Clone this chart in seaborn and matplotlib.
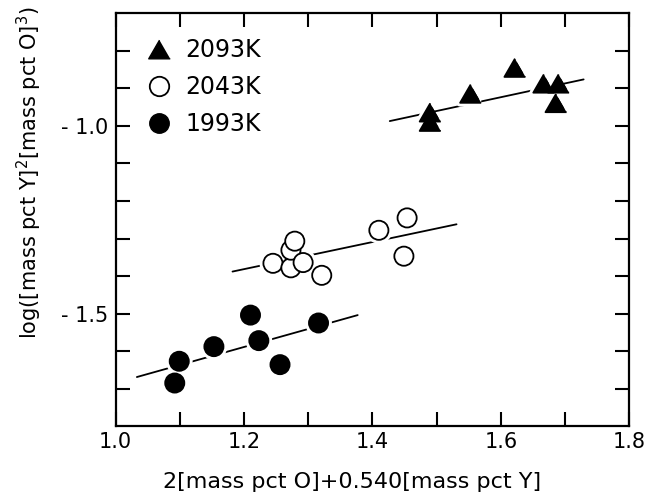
import numpy as np
import pandas as pd
import matplotlib
matplotlib.use("Agg")
import matplotlib.pyplot as plt
import matplotlib.patheffects as pe
from matplotlib.lines import Line2D
import seaborn as sns

# Measured equilibrium data: x = 2[O]+0.540[Y], y = log([Y]^2[O]^3)
x_2093 = [1.490, 1.490, 1.553, 1.622, 1.667, 1.690, 1.686]
y_2093 = [-0.964, -0.989, -0.914, -0.845, -0.887, -0.887, -0.939]

x_2043 = [1.245, 1.273, 1.273, 1.279, 1.292, 1.321, 1.410, 1.454, 1.449]
y_2043 = [-1.366, -1.378, -1.331, -1.307, -1.364, -1.398, -1.278, -1.245, -1.347]

x_1993 = [1.099, 1.092, 1.153, 1.210, 1.223, 1.256, 1.316]
y_1993 = [-1.627, -1.685, -1.588, -1.504, -1.572, -1.636, -1.525]

# End points of the regression lines for each temperature
fit_x_2093 = [1.427, 1.729]
fit_y_2093 = [-0.987, -0.876]
fit_x_2043 = [1.182, 1.531]
fit_y_2043 = [-1.388, -1.262]
fit_x_1993 = [1.033, 1.377]
fit_y_1993 = [-1.669, -1.504]

labels = ["2093K", "2043K", "1993K"]

sns.set_style("ticks")
plt.rcParams["font.family"] = ["DejaVu Sans"]
plt.rcParams["mathtext.default"] = "regular"
plt.rcParams["text.color"] = "black"
plt.rcParams["axes.labelcolor"] = "black"
plt.rcParams["xtick.color"] = "black"
plt.rcParams["ytick.color"] = "black"

fig = plt.figure(figsize=(6.5, 4.95), dpi=100)
ax = fig.add_axes([0.178, 0.139, 0.790, 0.834])

tri = [(0, 0.866), (-1, -0.866), (1, -0.866)]

# regression lines first; markers sit on top with a white halo
for fx, fy in [(fit_x_2093, fit_y_2093), (fit_x_2043, fit_y_2043),
               (fit_x_1993, fit_y_1993)]:
    sns.lineplot(x=fx, y=fy, ax=ax, color="black", linewidth=1.3, zorder=2)

series = [
    (x_2093, y_2093, tri, "black", 230),
    (x_2043, y_2043, "o", "white", 190),
    (x_1993, y_1993, "o", "black", 190),
]
halo = [pe.Stroke(linewidth=5.5, foreground="white"), pe.Normal()]
for xs, ys, mk, fc, sz in series:
    df = pd.DataFrame({"x": xs, "y": ys})
    sns.scatterplot(data=df, x="x", y="y", ax=ax, marker=mk, s=sz,
                    color=fc, edgecolor="black", linewidth=1.3, zorder=3,
                    legend=False)
    ax.collections[-1].set_path_effects(halo)

ax.set_xlim(1.0, 1.8)
ax.set_ylim(-1.8, -0.7)
ax.set_xticks([1.0, 1.1, 1.2, 1.3, 1.4, 1.5, 1.6, 1.7, 1.8])
ax.set_xticklabels(["1.0", "", "1.2", "", "1.4", "", "1.6", "", "1.8"])
yt = [-1.7, -1.6, -1.5, -1.4, -1.3, -1.2, -1.1, -1.0, -0.9, -0.8]
ax.set_yticks(yt)
ax.set_yticklabels(["", "", "- 1.5", "", "", "", "", "- 1.0", "", ""])

ax.tick_params(direction="in", length=10, width=1.5, top=True, right=True,
               labelsize=15, colors="black")
ax.tick_params(axis="x", pad=4)
ax.tick_params(axis="y", pad=5.5)
for sp in ax.spines.values():
    sp.set_linewidth(1.6)
    sp.set_color("black")
    sp.set_visible(True)

ax.set_xlabel("2[mass pct O]+0.540[mass pct Y]", fontsize=16, color="black")
ax.xaxis.set_label_coords(0.46, -0.1115)
ax.set_ylabel("log([mass pct Y]$^2$[mass pct O]$^3$)", fontsize=15, color="black")
ax.yaxis.set_label_coords(-0.14, 0.615)

handles = [
    Line2D([], [], marker=tri, linestyle="none", markersize=15.5,
           markerfacecolor="black", markeredgecolor="black"),
    Line2D([], [], marker="o", linestyle="none", markersize=14,
           markerfacecolor="white", markeredgecolor="black", markeredgewidth=1.3),
    Line2D([], [], marker="o", linestyle="none", markersize=14,
           markerfacecolor="black", markeredgecolor="black"),
]
leg = ax.legend(handles, labels, loc="upper left", bbox_to_anchor=(0.042, 0.963),
                frameon=False, fontsize=17, handlelength=1.0, handletextpad=0.62,
                labelspacing=0.55, borderaxespad=0.0)
for t in leg.get_texts():
    t.set_color("black")

fig.savefig("out.png", dpi=100)
